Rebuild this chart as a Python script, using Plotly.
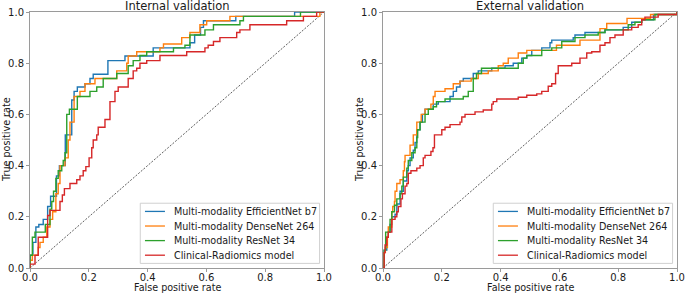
import plotly.graph_objects as go

# ---------------- data (ROC step vertices) ----------------
categories = ["Multi-modality EfficientNet b7", "Multi-modality DenseNet 264",
              "Multi-modality ResNet 34", "Clinical-Radiomics model"]
panel_titles = ["Internal validation", "External validation"]
tick_vals = [0.0, 0.2, 0.4, 0.6, 0.8, 1.0]
tick_text = ["0.0", "0.2", "0.4", "0.6", "0.8", "1.0"]
diag = [0.0, 1.0]

int_eff_fpr = [0.0, 0.0, 0.01, 0.02, 0.03, 0.045, 0.06, 0.07, 0.09, 0.10, 0.12, 0.142, 0.15, 0.161, 0.187, 0.204, 0.215, 0.265, 0.323, 0.419, 0.544, 0.56, 0.58, 0.59, 0.70, 0.90, 1.0]
int_eff_tpr = [0.0, 0.05, 0.10, 0.16, 0.17, 0.19, 0.24, 0.28, 0.36, 0.40, 0.52, 0.656, 0.69, 0.707, 0.72, 0.74, 0.757, 0.81, 0.828, 0.86, 0.88, 0.91, 0.94, 0.966, 0.983, 1.0, 1.0]

int_dense_fpr = [0.0, 0.0, 0.008, 0.028, 0.034, 0.045, 0.057, 0.068, 0.077, 0.088, 0.096, 0.102, 0.119, 0.13, 0.136, 0.15, 0.17, 0.187, 0.221, 0.295, 0.329, 0.334, 0.363, 0.442, 0.454, 0.516, 0.544, 0.578, 0.601, 0.68, 0.986, 1.0]
int_dense_tpr = [0.0, 0.03, 0.05, 0.08, 0.10, 0.12, 0.16, 0.19, 0.22, 0.29, 0.33, 0.40, 0.43, 0.50, 0.57, 0.67, 0.69, 0.72, 0.74, 0.77, 0.80, 0.828, 0.845, 0.86, 0.875, 0.90, 0.92, 0.95, 0.966, 0.983, 1.0, 1.0]

int_res_fpr = [0.0, 0.0, 0.008, 0.017, 0.052, 0.068, 0.074, 0.08, 0.088, 0.096, 0.108, 0.113, 0.119, 0.125, 0.134, 0.161, 0.204, 0.227, 0.249, 0.295, 0.334, 0.351, 0.374, 0.397, 0.488, 0.527, 0.544, 0.595, 0.624, 0.714, 0.726, 0.92, 1.0]
int_res_tpr = [0.0, 0.05, 0.12, 0.14, 0.17, 0.23, 0.26, 0.30, 0.35, 0.38, 0.40, 0.42, 0.45, 0.60, 0.62, 0.67, 0.69, 0.707, 0.74, 0.76, 0.79, 0.81, 0.83, 0.845, 0.86, 0.87, 0.91, 0.93, 0.95, 0.966, 0.983, 1.0, 1.0]

int_clin_fpr = [0.0, 0.0, 0.017, 0.028, 0.060, 0.068, 0.102, 0.11, 0.117, 0.136, 0.159, 0.17, 0.181, 0.19, 0.201, 0.21, 0.215, 0.227, 0.232, 0.255, 0.272, 0.289, 0.30, 0.334, 0.351, 0.363, 0.374, 0.397, 0.442, 0.533, 0.595, 0.606, 0.624, 0.646, 0.703, 0.714, 0.748, 0.873, 0.93, 0.975, 1.0]
int_clin_tpr = [0.0, 0.015, 0.05, 0.12, 0.205, 0.225, 0.26, 0.285, 0.31, 0.33, 0.345, 0.36, 0.38, 0.396, 0.43, 0.47, 0.50, 0.52, 0.55, 0.58, 0.65, 0.69, 0.707, 0.74, 0.77, 0.78, 0.80, 0.81, 0.83, 0.845, 0.86, 0.87, 0.885, 0.90, 0.92, 0.93, 0.95, 0.966, 0.983, 1.0, 1.0]

ext_eff_fpr = [0.0, 0.004, 0.013, 0.018, 0.024, 0.030, 0.041, 0.047, 0.058, 0.069, 0.081, 0.086, 0.092, 0.103, 0.109, 0.115, 0.126, 0.134, 0.143, 0.171, 0.188, 0.228, 0.239, 0.25, 0.262, 0.273, 0.307, 0.324, 0.37, 0.415, 0.443, 0.472, 0.489, 0.506, 0.54, 0.568, 0.574, 0.647, 0.653, 0.687, 0.755, 0.817, 0.846, 0.88, 0.92, 1.0]
ext_eff_tpr = [0.0, 0.07, 0.12, 0.14, 0.17, 0.20, 0.21, 0.25, 0.30, 0.34, 0.38, 0.40, 0.43, 0.46, 0.49, 0.54, 0.57, 0.60, 0.62, 0.64, 0.65, 0.67, 0.69, 0.707, 0.73, 0.74, 0.76, 0.77, 0.78, 0.79, 0.80, 0.82, 0.83, 0.85, 0.86, 0.88, 0.89, 0.90, 0.91, 0.92, 0.93, 0.94, 0.96, 0.97, 0.99, 1.0]

ext_dense_fpr = [0.0, 0.004, 0.008, 0.015, 0.018, 0.030, 0.033, 0.039, 0.041, 0.047, 0.058, 0.069, 0.073, 0.075, 0.092, 0.103, 0.115, 0.130, 0.143, 0.163, 0.171, 0.177, 0.211, 0.239, 0.262, 0.30, 0.324, 0.358, 0.392, 0.409, 0.426, 0.46, 0.489, 0.59, 0.67, 0.738, 0.761, 0.83, 0.91, 1.0]
ext_dense_tpr = [0.0, 0.06, 0.08, 0.12, 0.16, 0.22, 0.24, 0.26, 0.30, 0.33, 0.345, 0.38, 0.415, 0.44, 0.48, 0.52, 0.57, 0.60, 0.62, 0.64, 0.67, 0.69, 0.70, 0.72, 0.73, 0.74, 0.76, 0.77, 0.79, 0.80, 0.82, 0.84, 0.85, 0.87, 0.89, 0.935, 0.955, 0.975, 0.99, 1.0]

ext_res_fpr = [0.0, 0.004, 0.009, 0.024, 0.030, 0.039, 0.047, 0.058, 0.064, 0.069, 0.081, 0.086, 0.098, 0.109, 0.115, 0.118, 0.126, 0.143, 0.154, 0.171, 0.182, 0.211, 0.273, 0.29, 0.307, 0.318, 0.335, 0.46, 0.477, 0.489, 0.54, 0.574, 0.608, 0.653, 0.687, 0.732, 0.755, 0.834, 0.857, 0.88, 0.925, 1.0]
ext_res_tpr = [0.0, 0.07, 0.14, 0.19, 0.22, 0.245, 0.27, 0.29, 0.32, 0.355, 0.39, 0.42, 0.45, 0.47, 0.51, 0.54, 0.57, 0.60, 0.62, 0.63, 0.65, 0.66, 0.67, 0.69, 0.74, 0.76, 0.78, 0.80, 0.82, 0.83, 0.85, 0.86, 0.885, 0.90, 0.91, 0.92, 0.93, 0.95, 0.96, 0.97, 0.99, 1.0]

ext_clin_fpr = [0.0, 0.004, 0.007, 0.013, 0.018, 0.030, 0.041, 0.047, 0.052, 0.061, 0.066, 0.075, 0.081, 0.086, 0.095, 0.115, 0.126, 0.137, 0.143, 0.163, 0.170, 0.175, 0.2, 0.211, 0.228, 0.262, 0.268, 0.279, 0.313, 0.341, 0.37, 0.375, 0.387, 0.46, 0.489, 0.523, 0.54, 0.562, 0.574, 0.587, 0.596, 0.642, 0.67, 0.693, 0.71, 0.738, 0.755, 0.772, 0.789, 0.817, 0.846, 0.868, 0.88, 0.891, 0.936, 1.0]
ext_clin_tpr = [0.0, 0.06, 0.09, 0.12, 0.14, 0.19, 0.20, 0.22, 0.24, 0.27, 0.29, 0.32, 0.33, 0.37, 0.38, 0.39, 0.40, 0.43, 0.44, 0.455, 0.47, 0.52, 0.54, 0.55, 0.56, 0.57, 0.59, 0.60, 0.61, 0.617, 0.64, 0.65, 0.66, 0.667, 0.675, 0.68, 0.69, 0.71, 0.72, 0.76, 0.79, 0.80, 0.82, 0.84, 0.845, 0.87, 0.88, 0.90, 0.91, 0.93, 0.94, 0.95, 0.97, 0.98, 0.99, 1.0]

colors = ["#1f77b4", "#ff7f0e", "#2ca02c", "#d62728"]

panels = [
    [(int_eff_fpr, int_eff_tpr), (int_dense_fpr, int_dense_tpr),
     (int_res_fpr, int_res_tpr), (int_clin_fpr, int_clin_tpr)],
    [(ext_eff_fpr, ext_eff_tpr), (ext_dense_fpr, ext_dense_tpr),
     (ext_res_fpr, ext_res_tpr), (ext_clin_fpr, ext_clin_tpr)],
]

FONT = "DejaVu Sans"
TXT = "#1a1a1a"
SPINE = "#9a9a9a"

fig = go.Figure()
for p, curves in enumerate(panels):
    xa = "x" if p == 0 else "x2"
    ya = "y" if p == 0 else "y2"
    fig.add_trace(go.Scatter(x=diag, y=diag, mode="lines", xaxis=xa, yaxis=ya,
                             line=dict(color="#333333", width=0.8, dash="2px,1.5px"),
                             showlegend=False, hoverinfo="skip"))
    for (fx, ty), c, name in zip(curves, colors, categories):
        fig.add_trace(go.Scatter(x=fx, y=ty, mode="lines", xaxis=xa, yaxis=ya,
                                 line=dict(color=c, width=1.4, shape="hv"),
                                 name=name, showlegend=False))

W, H = 685, 293
ML, MR, MT, MB = 30, 8, 12, 25
pw = W - ML - MR
d1 = [0.0, 294 / pw]
d2 = [353 / pw, 1.0]

axis_common = dict(range=[0, 1], tickvals=tick_vals, ticktext=tick_text,
                   showline=True, mirror=True, linecolor=SPINE, linewidth=1,
                   ticks="outside", ticklen=3, tickcolor=SPINE, tickwidth=1,
                   showgrid=False, zeroline=False, automargin=False,
                   tickfont=dict(family=FONT, size=10, color=TXT))

fig.update_layout(
    width=W, height=H, margin=dict(l=ML, r=MR, t=MT, b=MB),
    paper_bgcolor="white", plot_bgcolor="white",
    showlegend=False,
    xaxis=dict(domain=d1, anchor="y", ticklabelstandoff=-3, **axis_common),
    yaxis=dict(domain=[0, 1], anchor="x", **axis_common),
    xaxis2=dict(domain=d2, anchor="y2", ticklabelstandoff=-3, **axis_common),
    yaxis2=dict(domain=[0, 1], anchor="x2", **axis_common),
    font=dict(family=FONT, color=TXT),
)

shapes = []
annotations = []
for p in range(2):
    xr = "x domain" if p == 0 else "x2 domain"
    yr = "y domain" if p == 0 else "y2 domain"
    # panel title
    annotations.append(dict(text=panel_titles[p], xref=xr, yref=yr, x=0.5, y=1,
                            xanchor="center", yanchor="middle", yshift=6.5,
                            showarrow=False, font=dict(family=FONT, size=11.5, color=TXT)))
    # axis titles
    annotations.append(dict(text="False positive rate", xref=xr, yref=yr, x=0.5, y=0,
                            xanchor="center", yanchor="middle", yshift=-19.5,
                            showarrow=False, font=dict(family=FONT, size=9.6, color=TXT)))
    annotations.append(dict(text="True positive rate", xref=xr, yref=yr, x=0, y=0.5,
                            xanchor="center", yanchor="middle", xshift=-24,
                            textangle=-90, showarrow=False,
                            font=dict(family=FONT, size=9.6, color=TXT)))
    # legend box
    shapes.append(dict(type="rect", xref=xr, yref=yr, x0=0.375, x1=0.985, y0=0.018, y1=0.253,
                       line=dict(color="#d0d0d0", width=1), fillcolor="rgba(255,255,255,0.85)",
                       layer="above"))
    rows = [0.221, 0.164, 0.107, 0.050]
    for c, name, ry in zip(colors, categories, rows):
        shapes.append(dict(type="line", xref=xr, yref=yr, x0=0.391, x1=0.459, y0=ry, y1=ry,
                           line=dict(color=c, width=1.3), layer="above"))
        annotations.append(dict(text=name, xref=xr, yref=yr, x=0.482, y=ry,
                                xanchor="left", yanchor="middle", showarrow=False,
                                font=dict(family=FONT, size=9.6, color=TXT)))

fig.update_layout(shapes=shapes, annotations=annotations)
fig.write_html("out.html", config={"displayModeBar": False},
               post_script="document.body.style.margin='0px';")
